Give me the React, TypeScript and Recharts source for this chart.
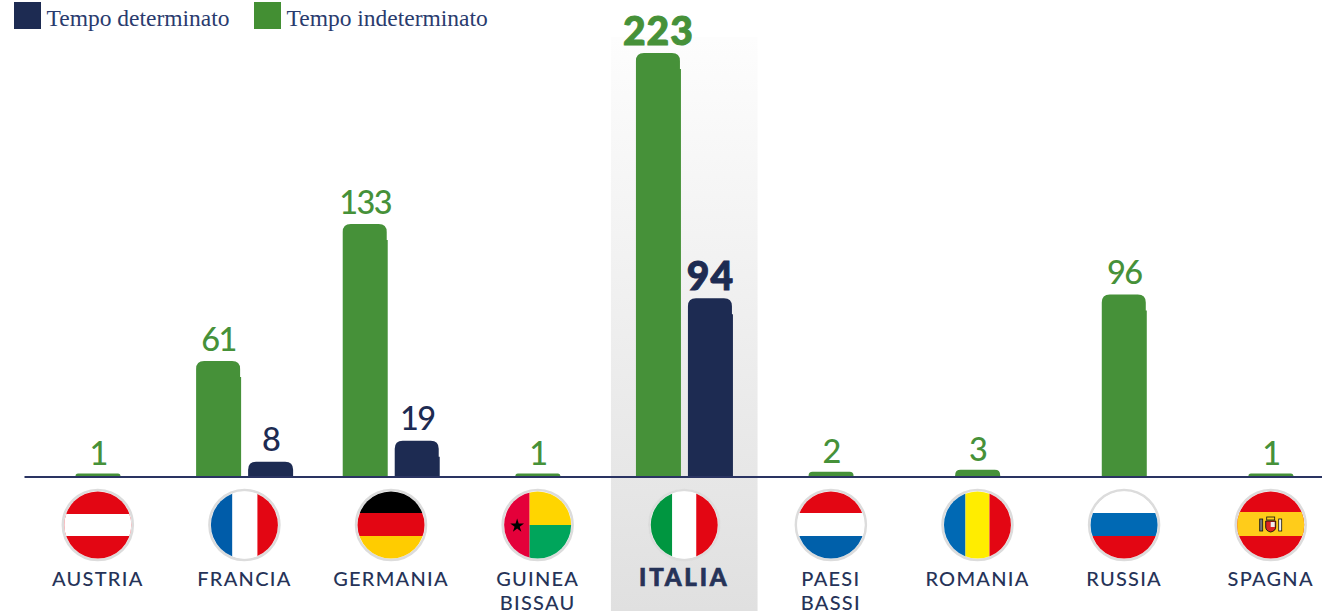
import { BarChart, Bar, XAxis, YAxis, Legend, LabelList, ReferenceArea } from "recharts"

const categories = ["AUSTRIA", "FRANCIA", "GERMANIA", "GUINEA BISSAU", "ITALIA", "PAESI BASSI", "ROMANIA", "RUSSIA", "SPAGNA"]
const indeterminato = [1, 61, 133, 1, 223, 2, 3, 96, 1]
const determinato = [null, 8, 19, null, 94, null, null, null, null]
const highlighted = "ITALIA"

const GREEN = "#469139"
const NAVY = "#1d2b52"
const TEXT = "#263358"
const BAR_SIZE = 45
const BAR_GAP = 7

const data = categories.map((name, i) => ({
  name,
  indeterminato: indeterminato[i],
  determinato: determinato[i],
}))

// single bars sit in the middle of their group
function loneShift(entry: any) {
  return entry.determinato == null ? (BAR_SIZE + BAR_GAP) / 2 : 0
}

function RoundedBar({ x, y, width, height, fill, payload, stepSide }: any) {
  if (!height || height <= 0) return null
  const left = x + (stepSide === "green" ? loneShift(payload) : 0)
  const bottom = y + height
  const right = left + width
  // very short bars still need to clear the axis line
  const top = height < 10 ? y - 1.5 : y
  const r = Math.min(8, (bottom - top) * 0.75)
  const stepY = top + 16
  if (height <= 18) {
    return (
      <path
        d={`M${left},${bottom}V${top + r}Q${left},${top} ${left + r},${top}H${right - r}Q${right},${top} ${right},${top + r}V${bottom}Z`}
        fill={fill}
      />
    )
  }
  // the top cap of each bar is a hair narrower than the body
  return (
    <path
      d={`M${left},${bottom}V${top + r}Q${left},${top} ${left + r},${top}H${right - 1 - r}Q${right - 1},${top} ${right - 1},${top + r}V${stepY}H${right}V${bottom}Z`}
      fill={fill}
    />
  )
}

function ValueLabel({ x, y, width, value, color, seriesKey }: any) {
  if (value == null) return null
  // LabelList skips nulls, so its index does not line up with the categories
  const entry: any = data.find((d: any) => d[seriesKey] === value)
  const big = entry.name === highlighted
  const dx = color === GREEN ? loneShift(entry) : 0
  return (
    <text
      x={x + dx + width / 2}
      y={y - (big ? 8 : 10.5)}
      textAnchor="middle"
      fill={color}
      stroke={big ? color : "none"}
      strokeWidth={big ? 1 : 0}
      fontFamily="Lato"
      fontWeight={big ? 900 : 500}
      fontSize={big ? 39 : 32.5}
      letterSpacing={big ? 1 : -1.6}
    >
      {value}
    </text>
  )
}

function flagBody(name: string) {
  switch (name) {
    case "AUSTRIA":
      return <><rect x={-36} y={-36} width={72} height={72} fill="#e30613" /><rect x={-36} y={-11} width={72} height={22} fill="#fff" /></>
    case "FRANCIA":
      return <><rect x={-36} y={-36} width={24} height={72} fill="#005ca9" /><rect x={-12} y={-36} width={25} height={72} fill="#fff" /><rect x={13} y={-36} width={23} height={72} fill="#e30613" /></>
    case "GERMANIA":
      return <><rect x={-36} y={-36} width={72} height={24} fill="#000" /><rect x={-36} y={-12} width={72} height={23} fill="#e30613" /><rect x={-36} y={11} width={72} height={25} fill="#ffcc00" /></>
    case "GUINEA BISSAU":
      return (
        <>
          <rect x={-36} y={-36} width={28} height={72} fill="#e4003a" />
          <rect x={-8} y={-36} width={44} height={36} fill="#ffd500" />
          <rect x={-8} y={0} width={44} height={36} fill="#00a55b" />
          <path d="M-20.5,-6.5L-18.9,-1.4L-13.6,-1.4L-17.9,1.7L-16.3,6.8L-20.5,3.6L-24.7,6.8L-23.1,1.7L-27.4,-1.4L-22.1,-1.4Z" fill="#000" />
        </>
      )
    case "ITALIA":
      return <><rect x={-36} y={-36} width={24} height={72} fill="#009640" /><rect x={-12} y={-36} width={24} height={72} fill="#fff" /><rect x={12} y={-36} width={24} height={72} fill="#e30613" /></>
    case "PAESI BASSI":
      return <><rect x={-36} y={-36} width={72} height={24} fill="#e30613" /><rect x={-36} y={-12} width={72} height={23} fill="#fff" /><rect x={-36} y={11} width={72} height={25} fill="#0060aa" /></>
    case "ROMANIA":
      return <><rect x={-36} y={-36} width={24} height={72} fill="#0069b4" /><rect x={-12} y={-36} width={24} height={72} fill="#ffed00" /><rect x={12} y={-36} width={24} height={72} fill="#e30613" /></>
    case "RUSSIA":
      return <><rect x={-36} y={-36} width={72} height={24} fill="#fff" /><rect x={-36} y={-12} width={72} height={23} fill="#0069b4" /><rect x={-36} y={11} width={72} height={25} fill="#e30613" /></>
    case "SPAGNA":
      return (
        <>
          <rect x={-36} y={-36} width={72} height={72} fill="#e30613" />
          <rect x={-36} y={-13} width={72} height={24} fill="#ffcc1a" />
          <rect x={-11} y={-6} width={3} height={12} fill="#777" stroke="#111" strokeWidth={0.8} />
          <rect x={8} y={-6} width={3} height={12} fill="#eee" stroke="#111" strokeWidth={0.8} />
          <path d="M-5,-4H5V2Q5,6 0,7Q-5,6 -5,2Z" fill="#d22" stroke="#111" strokeWidth={0.9} />
          <rect x={-4} y={-8} width={8} height={3} fill="#ffcc1a" stroke="#111" strokeWidth={0.8} />
          <rect x={0} y={-3} width={4} height={5} fill="#eee" />
        </>
      )
    default:
      return null
  }
}

function CountryTick({ x, y, payload }: any) {
  const name: string = payload.value
  const big = name === highlighted
  const clipId = `flag-${name.replace(" ", "-")}`
  return (
    <g>
      <g transform={`translate(${x},${y + 48})`}>
        <clipPath id={clipId}>
          <circle r={33.5} />
        </clipPath>
        <circle r={36} fill="#fff" />
        <circle r={35} fill="none" stroke="#dcdcdc" strokeWidth={2.5} />
        <g clipPath={`url(#${clipId})`}>{flagBody(name)}</g>
      </g>
      <text
        x={x}
        y={y + 109}
        textAnchor="middle"
        fill={TEXT}
        stroke={big ? TEXT : "none"}
        strokeWidth={big ? 0.7 : 0}
        fontFamily="Lato"
        fontWeight={big ? 900 : 500}
        fontSize={big ? 24 : 20}
        letterSpacing={big ? 2.8 : 1.25}
      >
        {name.split(" ").map((line, i) => (
          <tspan key={line} x={x} dy={i === 0 ? 0 : 23.5}>
            {line}
          </tspan>
        ))}
      </text>
    </g>
  )
}

function Highlight({ x, width }: any) {
  return (
    <g>
      <defs>
        <linearGradient id="bandFade" x1="0" y1="0" x2="0" y2="1">
          <stop offset="0%" stopColor="#fdfdfd" />
          <stop offset="100%" stopColor="#e0e0e0" />
        </linearGradient>
      </defs>
      <rect x={x} y={37} width={width} height={574} fill="url(#bandFade)" />
    </g>
  )
}

function TopLegend() {
  const items = [
    { label: "Tempo determinato", color: NAVY, width: 240 },
    { label: "Tempo indeterminato", color: "#438f33", width: 260 },
  ]
  return (
    <div style={{ display: "flex", margin: 0 }}>
      {items.map((item) => (
        <div key={item.label} style={{ display: "flex", width: item.width, height: 30 }}>
          <span style={{ width: 27, height: 27, marginTop: 2, background: item.color, display: "block" }} />
          <span
            style={{
              marginLeft: 5.5,
              marginTop: 3,
              fontFamily: "Liberation Serif",
              fontSize: 23.5,
              lineHeight: "30px",
              color: "#2a3b6e",
              whiteSpace: "nowrap",
            }}
          >
            {item.label}
          </span>
        </div>
      ))}
    </div>
  )
}

export default function App() {
  return (
    <div style={{ position: "absolute", left: 0, top: 0, width: 1322, height: 611, overflow: "hidden", background: "#fff" }}>
      <BarChart
        width={1344}
        height={611}
        data={data}
        margin={{ top: 23, right: 0, bottom: 0, left: 24.5 }}
        barSize={BAR_SIZE}
        barGap={BAR_GAP}
      >
        <ReferenceArea x1={highlighted} x2={highlighted} shape={<Highlight />} ifOverflow="visible" />
        <XAxis
          dataKey="name"
          interval={0}
          height={134}
          tickSize={0}
          tickMargin={0}
          axisLine={{ stroke: "#2a3462", strokeWidth: 1.8 }}
          tickLine={false}
          tick={<CountryTick />}
        />
        <YAxis hide width={0} domain={[0, 223]} />
        <Legend
          verticalAlign="top"
          content={<TopLegend />}
          wrapperStyle={{ position: "absolute", left: 14, top: 0, width: 600 }}
        />
        <Bar
          dataKey="indeterminato"
          name="Tempo indeterminato"
          fill={GREEN}
          isAnimationActive={false}
          shape={<RoundedBar stepSide="green" />}
        >
          <LabelList dataKey="indeterminato" content={<ValueLabel color={GREEN} seriesKey="indeterminato" />} />
        </Bar>
        <Bar
          dataKey="determinato"
          name="Tempo determinato"
          fill={NAVY}
          isAnimationActive={false}
          shape={<RoundedBar stepSide="navy" />}
        >
          <LabelList dataKey="determinato" content={<ValueLabel color={NAVY} seriesKey="determinato" />} />
        </Bar>
      </BarChart>
    </div>
  )
}
